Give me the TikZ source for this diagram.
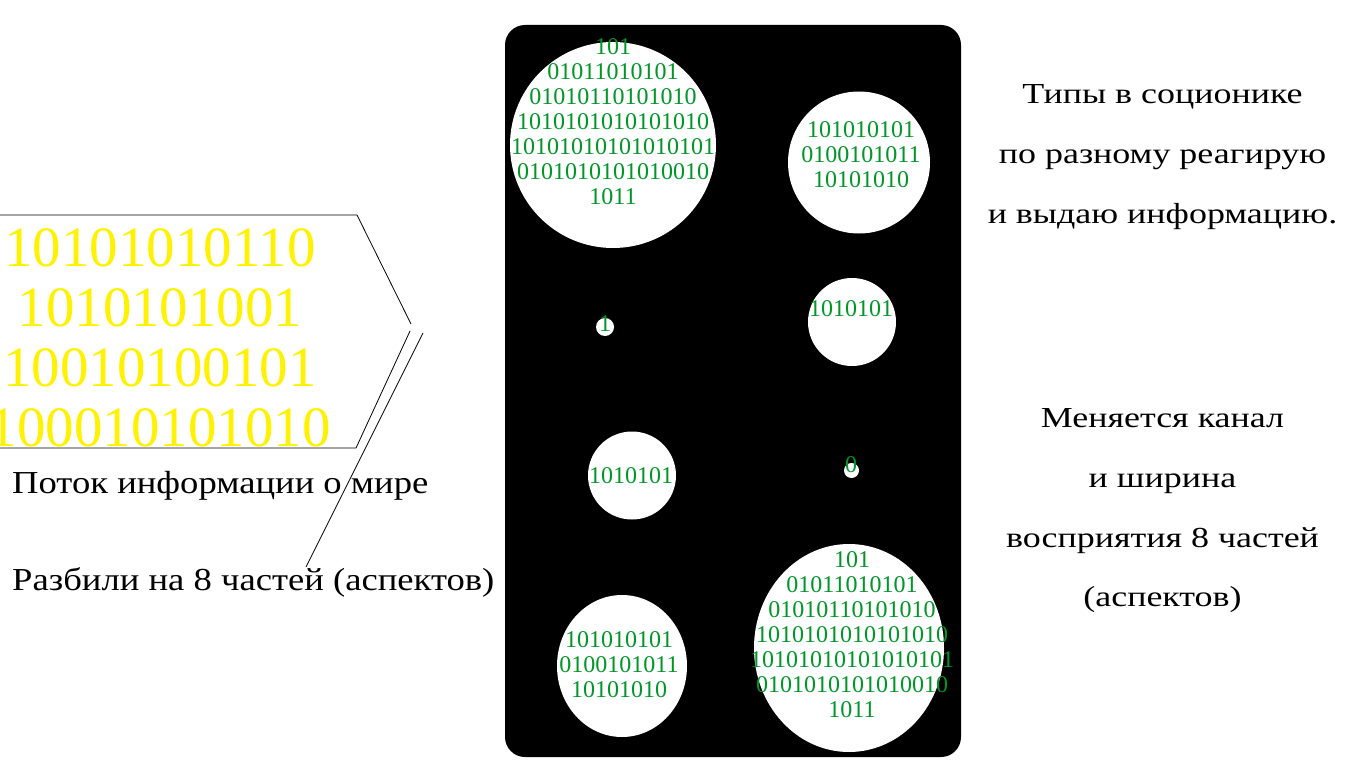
\documentclass[tikz,border=0pt]{standalone}
\usepackage{fontspec}
\setmainfont{Liberation Serif}
\definecolor{bitgreen}{RGB}{0,150,40}
\definecolor{bityellow}{RGB}{255,242,0}
\newcommand{\wideR}[1]{\scalebox{1.24}[1]{#1}}
\newcommand{\wideL}[1]{\scalebox{1.145}[1]{#1}}
\begin{document}
\begin{tikzpicture}[x=1pt,y=-1pt,
  hole/.style={fill=white,draw=none},
  bits/.style={text=bitgreen,align=center,inner sep=0pt,font=\fontsize{24}{25}\selectfont},
  bigbits/.style={text=bityellow,align=center,inner sep=0pt,font=\fontsize{57}{60}\selectfont},
  label/.style={text=black,inner sep=0pt,anchor=base,font=\fontsize{29}{32}\selectfont},
  leftlabel/.style={text=black,inner sep=0pt,anchor=base west,font=\fontsize{32}{35}\selectfont},
  edge/.style={draw=black,line width=0.8pt}]
\useasboundingbox (0,0) rectangle (1366,768);
\fill[white] (0,0) rectangle (1366,768);
% black panel
\fill[black,rounded corners=20pt] (505,25) rectangle (961,757);
% holes
\fill[hole] (613,145) circle (103);
\fill[hole] (859,162.5) circle (71);
\fill[hole] (605,327) circle (9);
\fill[hole] (852,322) circle (44);
\fill[hole] (632,475.5) circle (44);
\fill[hole] (851.5,470.5) circle (7.5);
\fill[hole] (622,666) ellipse [x radius=65,y radius=71];
\fill[hole] (849,648) ellipse [x radius=95,y radius=104];
% bits
\node[bits] (b1) at (613,121.5) {101\\01011010101\\01010110101010\\1010101010101010\\10101010101010101\\0101010101010010\\1011};
\node[bits] (b2) at (861,155) {101010101\\0100101011\\10101010};
\node[bits] (b3) at (605,323.5) {1};
\node[bits] (b4) at (851,308.5) {1010101};
\node[bits] (b5) at (631,476) {1010101};
\node[bits] (b6) at (851,464.5) {0};
\node[bits] (b7) at (619,665) {101010101\\0100101011\\10101010};
\node[bits] (b8) at (852,635) {101\\01011010101\\01010110101010\\1010101010101010\\10101010101010101\\0101010101010010\\1011};
% yellow stream
\node[bigbits] (stream) at (160,338) {10101010110\\1010101001\\10010100101\\100010101010};
% arrow outline
\coordinate (t0) at (0,215);
\coordinate (t1) at (357,215);
\coordinate (tip1) at (411,324);
\coordinate (u0) at (0,448);
\coordinate (u1) at (356,448);
\coordinate (tip2) at (410,331);
\coordinate (s0) at (423,333);
\coordinate (s1) at (306,567);
\draw[edge] (t0) -- (t1) -- (tip1);
\draw[edge] (u0) -- (u1) -- (tip2);
\draw[edge] (s0) -- (s1);
% left labels
\node[leftlabel] (flow) at (12,493) {\wideL{Поток информации о мире}};
\node[leftlabel] (split) at (12,590) {\wideL{Разбили на 8 частей (аспектов)}};
% right labels
\node[label] (r1) at (1162.5,103) {\wideR{Типы в соционике}};
\node[label] (r2) at (1162.5,163) {\wideR{по разному реагирую}};
\node[label] (r3) at (1162.5,223) {\wideR{и выдаю информацию.}};
\node[label] (r4) at (1162.5,427) {\wideR{Меняется канал}};
\node[label] (r5) at (1162.5,487) {\wideR{и ширина}};
\node[label] (r6) at (1162.5,547) {\wideR{восприятия 8 частей}};
\node[label] (r7) at (1162.5,606) {\wideR{(аспектов)}};
\end{tikzpicture}
\end{document}
